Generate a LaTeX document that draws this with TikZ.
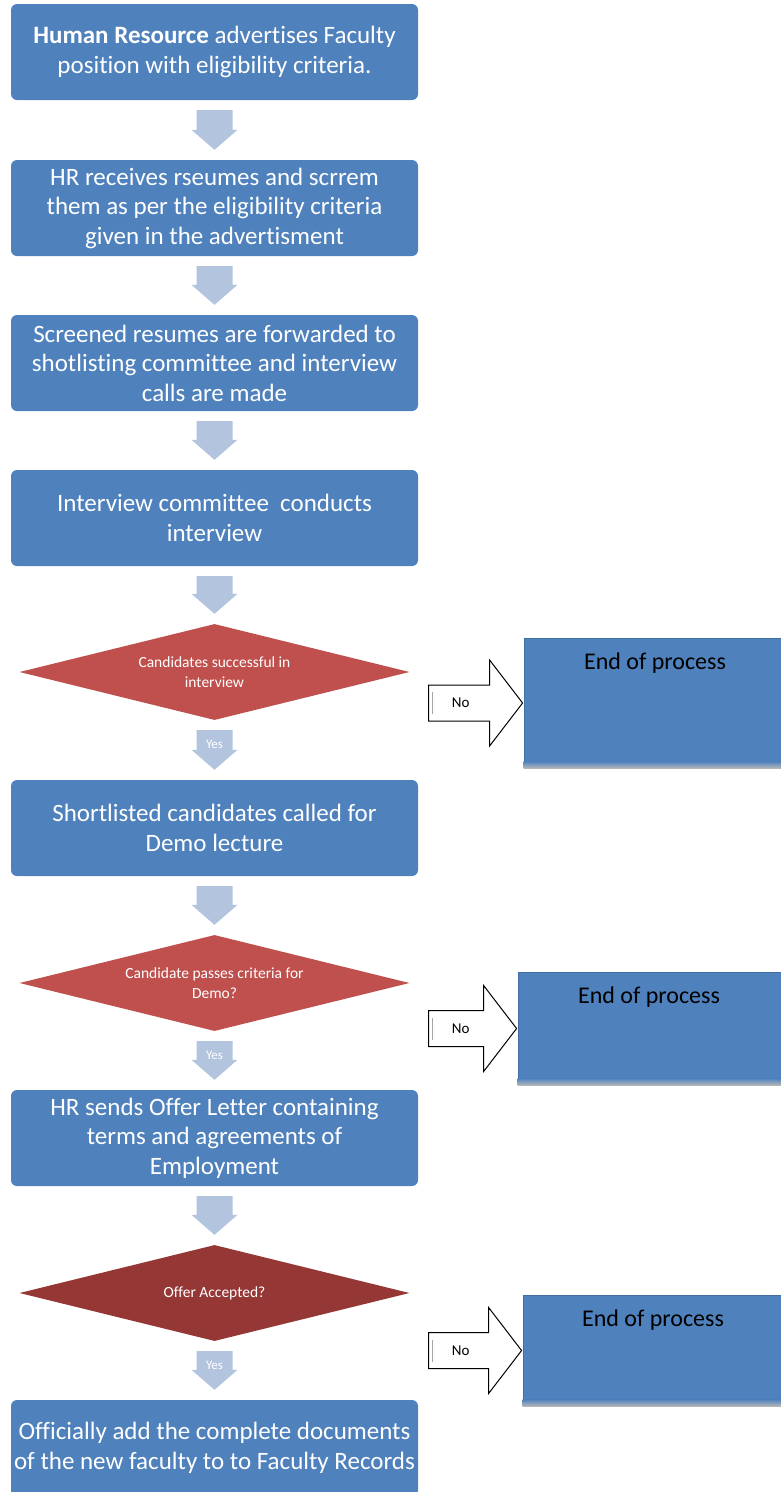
\documentclass[tikz,border=0pt]{standalone}
\usepackage{fontspec}
\setmainfont{Carlito}[Ligatures=NoCommon]
\usepackage{tikz}
\usetikzlibrary{shapes.geometric}
\usetikzlibrary{calc}

\definecolor{boxblue}{HTML}{4F81BD}
\definecolor{arrowblue}{HTML}{B3C4DF}
\definecolor{decred}{HTML}{C0504D}
\definecolor{decdark}{HTML}{953735}

% fat arrow pointing down from one node to the next
\newcommand{\blockdown}[3][]{%
  \fill[arrowblue] let \p1=(#2.south), \p2=(#3.north) in
    (\x1-18pt,\y1-10pt) -- (\x1+18pt,\y1-10pt) -- (\x1+18pt,\y2+30pt)
    -- (\x1+23pt,\y2+30pt) -- (\x1,\y2+10pt) -- (\x1-23pt,\y2+30pt)
    -- (\x1-18pt,\y2+30pt) -- cycle
    ($(\x1,\y1-10pt)!0.37!(\x1,\y2+10pt)$) node[yeslabel] {#1};}

% outlined "No" arrow from a decision to its end box
\newcommand{\blockno}[2]{%
  \draw[noarrow] let \p1=(#1.east), \p2=(#2.west) in
    (\x1+19pt,\y2+18pt) -- (\x2-34pt,\y2+18pt) -- (\x2-34pt,\y2+43pt)
    -- (\x2-1pt,\y2) -- (\x2-34pt,\y2-43pt) -- (\x2-34pt,\y2-18pt)
    -- (\x1+19pt,\y2-18pt) -- cycle
    (\x1+51pt,\y2) node[nolabel] {No};
  \draw[gray!70, line width=1.5pt] let \p1=(#1.east), \p2=(#2.west) in
    (\x1+23pt,\y2+11pt) -- (\x1+23pt,\y2-11pt);}

\begin{document}
\begin{tikzpicture}[x=1pt, y=-1pt,
  procbox/.style={rectangle, rounded corners=6pt, fill=boxblue, text=white,
    minimum width=407pt, minimum height=96pt, inner sep=0pt, align=center,
    font=\fontsize{25}{29.5}\selectfont},
  decision/.style={diamond, aspect=4, fill=decred, text=white, minimum width=390pt,
    minimum height=96pt, inner sep=0pt, align=center,
    font=\fontsize{15.5}{20}\selectfont},
  endbox/.style={rectangle, fill=boxblue, draw=boxblue!85!black, line width=0.8pt,
    inner sep=0pt},
  endtext/.style={text=black, font=\fontsize{24}{26}\selectfont},
  yeslabel/.style={text=white, font=\fontsize{13}{14}\selectfont},
  noarrow/.style={draw=black, fill=white, line width=1pt, line join=miter},
  nolabel/.style={text=black, font=\fontsize{15}{16}\selectfont}]
  \clip (0,0) rectangle (781,1492);
  \fill[white] (0,0) rectangle (781,1492);

  \node[procbox] (b1) at (214.5,52) {\textbf{Human Resource} advertises Faculty\\position with eligibility criteria.};
  \node[procbox] (b2) at (214.5,208) {HR receives rseumes and scrrem\\them as per the eligibility criteria\\given in the advertisment};
  \node[procbox] (b3) at (214.5,363) {Screened resumes are forwarded to\\shotlisting committee and interview\\calls are made};
  \node[procbox] (b4) at (214.5,518) {Interview committee\ \ conducts\\interview};
  \node[decision] (d1) at (214.5,672) {Candidates successful in\\interview};
  \node[procbox] (b5) at (214.5,828) {Shortlisted candidates called for\\Demo lecture};
  \node[decision] (d2) at (214.5,983) {Candidate passes criteria for\\Demo?};
  \node[procbox] (b6) at (214.5,1138) {HR sends Offer Letter containing\\terms and agreements of\\Employment};
  \node[decision, fill=decdark] (d3) at (214.5,1293) {Offer Accepted?};
  \node[procbox] (b7) at (214.5,1448) {Officially add the complete documents\\of the new faculty to to Faculty Records};

  \node[endbox, minimum width=262pt, minimum height=130pt] (e1) at (655,703) {};
  \node[endbox, minimum width=268pt, minimum height=113pt] (e2) at (652,1028.5) {};
  \node[endbox, minimum width=263pt, minimum height=111pt] (e3) at (654.5,1350.5) {};
  \foreach \e in {e1,e2,e3}
    \shade[top color=boxblue, bottom color=gray!55] ($(\e.south west)+(0,-7)$) rectangle (\e.south east);
  \node[endtext] (t1) at (655,663) {End of process};
  \node[endtext] (t2) at (649,997) {End of process};
  \node[endtext] (t3) at (653,1320) {End of process};

  \blockdown{b1}{b2}
  \blockdown{b2}{b3}
  \blockdown{b3}{b4}
  \blockdown{b4}{d1}
  \blockdown[Yes]{d1}{b5}
  \blockdown{b5}{d2}
  \blockdown[Yes]{d2}{b6}
  \blockdown{b6}{d3}
  \blockdown[Yes]{d3}{b7}

  \blockno{d1}{e1}
  \blockno{d2}{e2}
  \blockno{d3}{e3}
\end{tikzpicture}
\end{document}
